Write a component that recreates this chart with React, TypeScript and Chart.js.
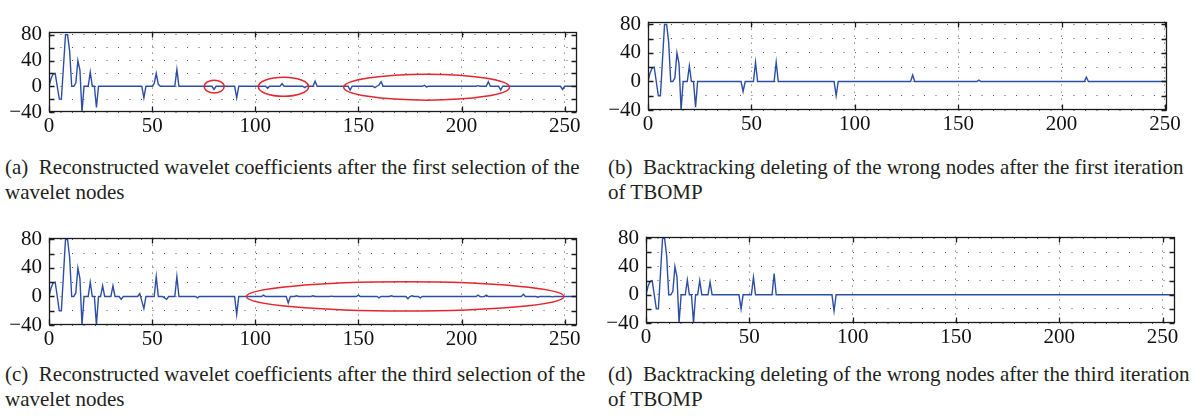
import React, { useEffect, useRef } from "react";
import { Chart, registerables } from "chart.js";

Chart.register(...registerables);

// ---------- data ----------
const xTickValues = [0, 50, 100, 150, 200, 250];
const yGridValues = [-40, -20, 0, 20, 40, 60, 80];
const yLabelValues = [-40, 0, 40, 80];

// [index, coefficient] samples; segments between listed samples are flat lines
const seriesA: [number, number][] = [
  [0, 0], [1, 12], [2, 19], [3, 20], [4, 0], [5, -20], [6, -20], [7, 30], [8, 80], [9, 80], [10, 55],
  [11, 0], [12, 0], [13, 5], [14, 40], [15, 25], [16, -40], [17, 0], [18, 0], [19, 0], [20, 22], [21, 0],
  [22, 0], [23, -33], [24, 0],
  [45, 0], [46, -18], [47, 0],
  [50, 0], [51, 4], [52, 20], [53, 3], [54, 0],
  [61, 0], [62, 26], [63, 0],
  [79, 0], [80, -5], [81, 0],
  [90, 0], [91, -18], [92, 0],
  [105, 0], [106, -3], [107, 0],
  [112, 0], [113, 4], [114, 0],
  [123, 0], [124, -2], [125, 0], [128, 0], [129, 8], [130, 0],
  [145, 0], [146, -6], [147, 0],
  [157, 0], [158, -2], [159, 0], [160, 2], [161, 7], [162, 0],
  [181, 0], [182, 1.5], [183, -1], [184, 0],
  [207, 0], [208, 1], [209, 0], [212, 0], [213, 7], [214, 0],
  [218, 0], [219, -6], [220, 0],
  [248, 0], [249, -5], [250, 0],
  [256, 0],
];

const seriesB: [number, number][] = [
  [0, 0], [1, 12], [2, 19], [3, 20], [4, 0], [5, -20], [6, -20], [7, 30], [8, 80], [9, 80], [10, 55],
  [11, 0], [12, 0], [13, 5], [14, 40], [15, 25], [16, -40], [17, 0], [18, 0], [19, 0], [20, 22], [21, 0],
  [22, 0], [23, -36], [24, 0],
  [45, 0], [46, -14], [47, 0],
  [51, 0], [52, 27], [53, 0],
  [61, 0], [62, 27], [63, 0],
  [90, 0], [91, -20], [92, 0],
  [127, 0], [128, 9], [129, 0],
  [159, 0], [160, 2], [161, 0],
  [211, 0], [212, 6], [213, 0],
  [251, 0],
];

const seriesC: [number, number][] = [
  [0, 0], [1, 12], [2, 19], [3, 20], [4, 0], [5, -20], [6, -20], [7, 30], [8, 80], [9, 80], [10, 55],
  [11, 0], [12, 0], [13, 5], [14, 40], [15, 25], [16, -40], [17, 0], [18, 0], [19, 0], [20, 20], [21, 0],
  [22, 0], [23, -40], [24, 0], [25, 0], [26, 15], [27, 0], [30, 0], [31, 15], [32, 0],
  [34, 0], [35, -4], [36, 0],
  [43, 0], [44, 4], [46, -17], [47, 0],
  [51, 0], [52, 28], [53, 0],
  [55, 0], [56, -2], [57, -4], [58, 0],
  [61, 0], [62, 28], [63, 0],
  [71, 0], [72, -2], [73, 0],
  [90, 0], [91, -25], [92, 0],
  [103, 0], [104, 2], [105, 0],
  [115, 0], [116, -9], [117, 0],
  [119, 0], [120, 1], [121, 0],
  [127, 0], [128, 1], [129, 0],
  [136, 0], [137, 0.5], [138, 0],
  [149, 0], [150, 2], [151, 0],
  [159, 0], [160, -2], [161, 0],
  [165, 0], [166, 1], [167, 0],
  [173, 0], [174, -3], [175, 0], [176, 1], [177, 0],
  [179, 0], [180, -2], [181, 0],
  [207, 0], [208, 2], [209, 0], [210, -0.5], [211, 0], [212, 2], [213, 0],
  [229, 0], [230, 3], [231, 0],
  [236, 0], [237, -1], [238, 0],
  [243, 0], [244, -0.5], [245, 0],
  [256, 0],
];

const seriesD: [number, number][] = [
  [0, 0], [1, 12], [2, 19], [3, 20], [4, 0], [5, -20], [6, -20], [7, 30], [8, 80], [9, 80], [10, 55],
  [11, 0], [12, 0], [13, 5], [14, 40], [15, 25], [16, -40], [17, 0], [18, 0], [19, 0], [20, 21], [21, 0],
  [22, 0], [23, -40], [24, 0], [25, 0], [26, 20], [27, 0], [30, 0], [31, 18], [32, 0],
  [45, 0], [46, -20], [47, 0],
  [51, 0], [52, 25], [53, 0],
  [61, 0], [62, 30], [63, 0],
  [90, 0], [91, -23], [92, 0],
  [256, 0],
];

// annotation ellipses: [centre x, centre y, radius x, radius y] in data units
const ellipsesA: [number, number, number, number][] = [
  [80.1, -0.4, 4.85, 9.9],
  [113.7, -0.7, 12.2, 14.9],
  [183.1, -1.4, 40.2, 20.2],
];
const ellipsesC: [number, number, number, number][] = [[172.7, 0, 77, 20.5]];

const captionA = ["(a)\u2002Reconstructed wavelet coefficients after the first selection of the", "wavelet nodes"];
const captionB = ["(b)\u2002Backtracking deleting of the wrong nodes after the first iteration", "of TBOMP"];
const captionC = ["(c)\u2002Reconstructed wavelet coefficients after the third selection of the", "wavelet nodes"];
const captionD = ["(d)\u2002Backtracking deleting of the wrong nodes after the third iteration", "of TBOMP"];

// ---------- layout ----------
const FONT = "'Liberation Serif', 'DejaVu Serif', serif";
const TICK_SIZE = 21;
const LY = 50; // y axis width
const PT = 12; // top padding
const PR = 16; // right padding
const LX = 34; // x axis height

type Panel = {
  left: number; top: number; w: number; h: number;
  xMax: number; yMax: number;
  data: [number, number][];
  ellipses: [number, number, number, number][];
};

const panels: Panel[] = [
  { left: 49, top: 24, w: 528, h: 88, xMax: 256, yMax: 85, data: seriesA, ellipses: ellipsesA },
  { left: 648, top: 14, w: 519, h: 96, xMax: 251, yMax: 84, data: seriesB, ellipses: [] },
  { left: 49, top: 230, w: 528, h: 95, xMax: 256, yMax: 82.6, data: seriesC, ellipses: ellipsesC },
  { left: 646, top: 229, w: 529, h: 94, xMax: 256, yMax: 82.5, data: seriesD, ellipses: [] },
];

const captions = [
  { left: 5, top: 155, lines: captionA },
  { left: 608, top: 155, lines: captionB },
  { left: 5, top: 362, lines: captionC },
  { left: 608, top: 362, lines: captionD },
];

function fmt(v: number): string {
  return v < 0 ? "\u2212" + Math.abs(v) : String(v);
}

function PanelChart({ p }: { p: Panel }) {
  const ref = useRef<HTMLCanvasElement | null>(null);
  const cw = p.w + LY + PR;
  const ch = p.h + PT + LX;

  useEffect(() => {
    if (!ref.current) return;
    const boxPlugin = {
      id: "boxTicks",
      afterDatasetsDraw(chart: any) {
        const { ctx, scales } = chart;
        ctx.save();
        ctx.strokeStyle = "#e3262f";
        ctx.lineWidth = 1.5;
        p.ellipses.forEach(([cx, cy, rx, ry]) => {
          const px = scales.x.getPixelForValue(cx);
          const py = scales.y.getPixelForValue(cy);
          const prx = Math.abs(scales.x.getPixelForValue(cx + rx) - px);
          const pry = Math.abs(scales.y.getPixelForValue(cy + ry) - py);
          ctx.beginPath();
          ctx.ellipse(px, py, prx, pry, 0, 0, Math.PI * 2);
          ctx.stroke();
        });
        ctx.restore();
      },
      afterDraw(chart: any) {
        const { ctx, chartArea, scales } = chart;
        const l = Math.round(chartArea.left) + 0.5;
        const r = Math.round(chartArea.right) - 0.5;
        const t = Math.round(chartArea.top) + 0.5;
        const b = Math.round(chartArea.bottom) - 0.5;
        ctx.save();
        ctx.strokeStyle = "#1c1c1c";
        ctx.lineWidth = 1.3;
        ctx.strokeRect(l, t, r - l, b - t);
        const tl = 5;
        ctx.beginPath();
        xTickValues.forEach((v) => {
          const x = Math.round(scales.x.getPixelForValue(v)) + 0.5;
          ctx.moveTo(x, b); ctx.lineTo(x, b - tl);
          ctx.moveTo(x, t); ctx.lineTo(x, t + tl);
        });
        yGridValues.forEach((v) => {
          const y = Math.round(scales.y.getPixelForValue(v)) + 0.5;
          ctx.moveTo(l, y); ctx.lineTo(l + tl, y);
          ctx.moveTo(r, y); ctx.lineTo(r - tl, y);
        });
        ctx.stroke();
        ctx.restore();
      },
    };

    const chart = new Chart(ref.current, {
      type: "line",
      data: {
        datasets: [
          {
            data: p.data.map(([x, y]) => ({ x, y })),
            borderColor: "#2d4ea5",
            borderWidth: 1.4,
            pointRadius: 0,
            tension: 0,
            fill: false,
          },
        ],
      },
      options: {
        animation: false,
        responsive: false,
        events: [],
        layout: { padding: { top: PT, right: PR, left: 0, bottom: 0 } },
        plugins: { legend: { display: false }, tooltip: { enabled: false } },
        scales: {
          x: {
            type: "linear",
            min: 0,
            max: p.xMax,
            afterBuildTicks: (s: any) => {
              s.ticks = xTickValues.map((v) => ({ value: v }));
            },
            afterFit: (s: any) => {
              s.height = LX;
            },
            ticks: {
              font: { family: FONT, size: TICK_SIZE },
              color: "#111",
              padding: 2,
              maxRotation: 0,
              autoSkip: false,
              callback: (v: any) => fmt(Number(v)),
            },
            grid: { color: "#555", lineWidth: 1, drawTicks: false },
            border: { display: false, dash: [1, 6] },
          },
          y: {
            type: "linear",
            min: -40,
            max: p.yMax,
            afterBuildTicks: (s: any) => {
              s.ticks = yGridValues.map((v) => ({ value: v }));
            },
            afterFit: (s: any) => {
              s.width = LY;
            },
            ticks: {
              font: { family: FONT, size: TICK_SIZE },
              color: "#111",
              padding: 7,
              autoSkip: false,
              callback: (v: any) => (yLabelValues.includes(Number(v)) ? fmt(Number(v)) : ""),
            },
            grid: { color: "#555", lineWidth: 1, drawTicks: false },
            border: { display: false, dash: [1, 10.5] },
          },
        },
      },
      plugins: [boxPlugin],
    } as any);
    return () => chart.destroy();
  }, []);

  return (
    <canvas
      ref={ref}
      width={cw}
      height={ch}
      style={{ position: "absolute", left: p.left - LY, top: p.top - PT, width: cw, height: ch }}
    />
  );
}

export default function App() {
  return (
    <div
      style={{
        position: "absolute",
        left: 0,
        top: 0,
        width: 1193,
        height: 420,
        overflow: "hidden",
        background: "#fff",
      }}
    >
      {panels.map((p, i) => (
        <PanelChart key={i} p={p} />
      ))}
      {captions.map((c, i) => (
        <div
          key={"c" + i}
          style={{
            position: "absolute",
            left: c.left,
            top: c.top,
            fontFamily: FONT,
            fontSize: 21,
            lineHeight: "25px",
            color: "#231f20",
            whiteSpace: "pre",
          }}
        >
          {c.lines.map((ln, j) => (
            <div key={j}>{ln}</div>
          ))}
        </div>
      ))}
    </div>
  );
}
